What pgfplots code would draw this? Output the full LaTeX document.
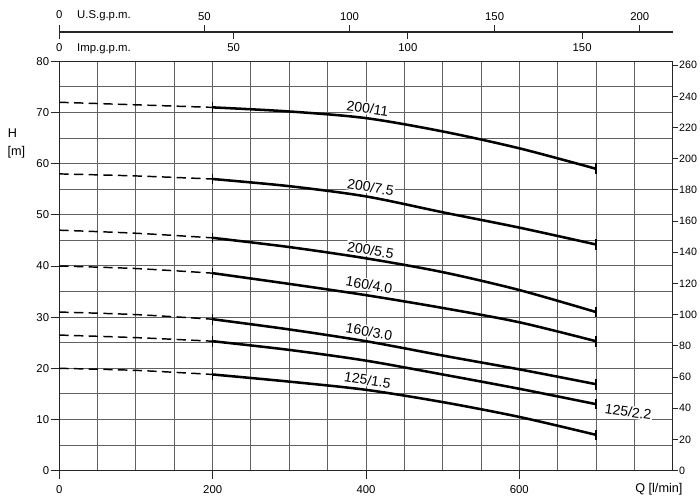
\documentclass[border=0pt]{standalone}
\usepackage{pgfplots}
\pgfplotsset{compat=1.18}
\usepackage{fontspec}
\setmainfont{Liberation Sans}
\definecolor{gridc}{gray}{0.38}
\pgfplotsset{
  base/.style={scale only axis, width=460pt,
    /pgf/number format/assume math mode=true,
    ticklabel style={font=\fontsize{8.5}{10}\selectfont},
    tick style={line width=0.7pt, black!85}},
  dsh/.style={black, line width=1.1pt, dash pattern=on 7pt off 4pt, smooth},
  sld/.style={black, line width=1.9pt, smooth},
  bars/.style={only marks, mark=|, mark size=4pt, mark options={line width=1.1pt, black}},
}
\tikzset{clab/.style={fill=white, inner sep=0.8pt, font=\fontsize{10.5}{12}\selectfont}}
\begin{document}
\begin{tikzpicture}
% main axis (m)
\begin{axis}[base, height=307pt,
  xmin=0, xmax=800, ymin=0, ymax=80,
  xtick={0,200,400,600}, ytick={0,10,...,80},
  minor xtick={50,100,150,250,300,350,450,500,550,650,700,750},
  minor ytick={5,15,25,35,45,55,65,75},
  grid=both,
  major grid style={gridc, line width=0.75pt},
  minor grid style={gridc, line width=0.75pt},
  tick align=outside, xtick pos=bottom, ytick pos=left,
  major tick length=6.5pt, minor tick length=0pt,
  yticklabel style={inner sep=1pt},
  xticklabel style={yshift=-1.5pt},
  axis line style={line width=0.9pt, black!85},
  clip=false]
\node[clab, rotate=-8] at (axis cs:402,70.8) {200/11};
\node[clab, rotate=-10] at (axis cs:406,55.4) {200/7.5};
\node[clab, rotate=-10] at (axis cs:406,43.1) {200/5.5};
\node[clab, rotate=-10] at (axis cs:404,36.3) {160/4.0};
\node[clab, rotate=-10] at (axis cs:404,27.2) {160/3.0};
\node[clab, rotate=-9] at (axis cs:402,17.7) {125/1.5};
\node[clab, rotate=-8] at (axis cs:742,11.5) {125/2.2};
\node[font=\fontsize{9.5}{11}\selectfont] at (axis cs:-61,66) {H};
\node[font=\fontsize{9.5}{11}\selectfont] at (axis cs:-56,62.2) {[m]};
\node[font=\fontsize{9.5}{11}\selectfont] at (axis cs:782,-3.7) {Q [l/min]};
% 200/11
\addplot[dsh] coordinates {(0,72) (100,71.5) (200,71)};
\addplot[sld] coordinates {(200,71) (300,70.2) (400,68.9) (500,66.3) (600,63.0) (700,59.0)};
% 200/7.5
\addplot[dsh] coordinates {(0,58) (100,57.6) (200,57)};
\addplot[sld] coordinates {(200,57) (300,55.6) (400,53.6) (500,50.5) (600,47.5) (700,44.2)};
% 200/5.5
\addplot[dsh] coordinates {(0,47) (100,46.4) (200,45.5)};
\addplot[sld] coordinates {(200,45.5) (300,43.7) (400,41.5) (500,38.8) (600,35.3) (700,31.0)};
% 160/4.0
\addplot[dsh] coordinates {(0,40) (100,39.5) (200,38.6)};
\addplot[sld] coordinates {(200,38.6) (300,36.5) (400,34.3) (500,31.8) (600,29.0) (700,25.3)};
% 160/3.0
\addplot[dsh] coordinates {(0,31) (100,30.5) (200,29.6)};
\addplot[sld] coordinates {(200,29.6) (300,27.6) (400,25.3) (500,22.5) (600,19.8) (700,16.9)};
% 125/2.2
\addplot[dsh] coordinates {(0,26.5) (100,26.0) (200,25.3)};
\addplot[sld] coordinates {(200,25.3) (300,23.6) (400,21.5) (500,18.8) (600,16.0) (700,13.0)};
% 125/1.5
\addplot[dsh] coordinates {(0,20) (100,19.6) (200,18.8)};
\addplot[sld] coordinates {(200,18.8) (300,17.4) (400,15.8) (500,13.4) (600,10.5) (700,7.0)};
% end bars
\addplot[bars] coordinates {(200,71) (700,59) (200,57) (700,44.2) (200,45.5) (700,31)
  (200,38.6) (700,25.3) (200,29.6) (700,16.9) (200,25.3) (700,13) (200,18.8) (700,7)};
\end{axis}
% right axis (ft)
\begin{axis}[base, height=307pt,
  xmin=0, xmax=800, ymin=0, ymax=262.467,
  axis y line*=right, axis x line=none,
  ytick={0,20,...,260}, tick align=outside, major tick length=4pt,
  yticklabel style={inner sep=0.7pt, font=\fontsize{8}{10}\selectfont},
  axis line style={line width=0.9pt, black!85}]
\end{axis}
% US gpm
\begin{axis}[base, height=20pt, at={(0,329pt)}, anchor=north west,
  xmin=0, xmax=211.35, ymin=0, ymax=1,
  axis x line*=top, axis y line=none,
  xtick={0,50,100,150,200},
  xticklabels={0\rlap{\hspace{1.3em}U.S.g.p.m.},50,100,150,200},
  tick align=outside, major tick length=5pt,
  axis line style={line width=0.8pt, black!85}]
\end{axis}
% Imp gpm
\begin{axis}[base, height=20pt, at={(0,329pt)}, anchor=south west,
  xmin=0, xmax=175.98, ymin=0, ymax=1,
  axis x line*=bottom, axis y line=none,
  xtick={0,50,100,150},
  xticklabels={0\rlap{\hspace{1.3em}Imp.g.p.m.},50,100,150},
  tick align=outside, major tick length=5.5pt,
  axis line style={line width=0.8pt, black!85}]
\end{axis}
\pgfresetboundingbox
\useasboundingbox (-44.5pt,-21.2pt) rectangle (480.5pt,353pt);
\end{tikzpicture}
\end{document}
